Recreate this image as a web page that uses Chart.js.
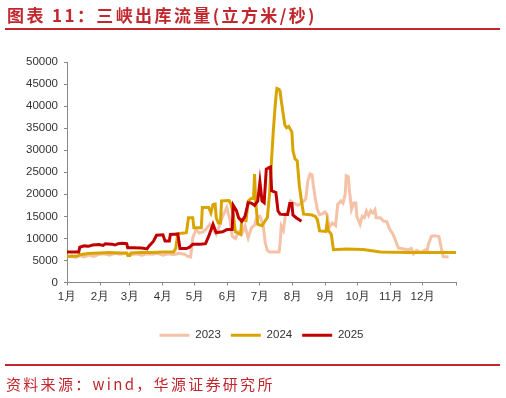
<!DOCTYPE html>
<html>
<head>
<meta charset="utf-8">
<script src="https://cdn.jsdelivr.net/npm/chart.js@4.4.1/dist/chart.umd.min.js"></script>
<style>
  html, body { margin: 0; padding: 0; background: #fff; }
  body { width: 506px; height: 398px; position: relative; overflow: hidden; }
  #title { position: absolute; left: 7px; top: 4px; font-family: "Noto Sans CJK SC", sans-serif; font-size: 17px; font-weight: 700; color: #C1272D; letter-spacing: 2.4px; white-space: nowrap; line-height: 22px; }
  #topline { position: absolute; left: 5px; top: 28px; width: 495px; height: 2px; background: #C1272D; }
  #botline { position: absolute; left: 5px; top: 364px; width: 495px; height: 2px; background: #C1272D; }
  #source { position: absolute; left: 6px; top: 373px; font-family: "Noto Sans CJK SC", sans-serif; font-size: 15px; color: #C1272D; letter-spacing: 2.3px; white-space: nowrap; line-height: 22px; }
  #wrap { position: absolute; left: 0; top: 0; width: 506px; height: 398px; }
</style>
</head>
<body>
<div id="wrap"><canvas id="c" width="506" height="398"></canvas></div>
<div id="title">图表 11：三峡出库流量(立方米/秒)</div>
<div id="topline"></div>
<div id="botline"></div>
<div id="source">资料来源：wind，华源证券研究所</div>
<script>
// Month tick labels and their start day-of-year
const monthLabels = ["1月","2月","3月","4月","5月","6月","7月","8月","9月","10月","11月","12月",""];
const monthStartDays = [0,31,59,90,120,151,181,212,243,273,304,334,365];

const seriesNames = ["2023","2024","2025"];

// 2023 (day of year, flow m3/s)
const days2023 = [0,5,8,12,16,20,25,30,35,40,45,50,55,60,65,70,75,80,85,90,95,100,105,110,114,116,118,121,124,128,131,134,137,140,143,146,150,153,155,158,161,164,167,170,173,176,178,181,184,186,188,190,199,200,201,203,205,208,210,213,217,221,224,226,228,230,231,233,235,237,240,242,244,246,249,252,254,257,259,261,262,264,265,267,269,271,272,275,277,279,281,283,285,287,289,290,294,297,300,303,306,309,311,316,320,323,325,328,332,336,338,339,342,345,349,351,353,358];
const flow2023 = [5900,6000,5700,6100,5800,6200,5900,6400,6500,6200,6600,6400,6600,6300,6500,6200,6500,6400,6600,6200,6500,6300,6600,6400,5900,5800,10100,12000,11200,11500,12300,13200,12000,10900,12800,15000,17000,14000,10500,10000,11500,11000,12800,10100,12400,13000,14700,15000,13200,9000,7300,6900,6900,9000,12800,11800,15400,16300,18500,18000,17500,18200,18900,23000,24600,24400,22300,19000,16500,15400,15600,16000,15400,12400,13500,12900,17700,18500,18000,20000,24200,24000,20800,16600,18000,18000,15000,13200,15000,14700,16200,15200,16300,15800,16500,14700,14700,13900,13800,12000,10900,9000,7800,7600,7400,7700,6500,7300,6800,7400,7200,8600,10500,10600,10400,8000,5900,5800];

// 2024
const days2024 = [0,10,12,20,30,40,50,56,57,59,60,70,80,90,100,102,104,110,112,114,118,119,126,127,133,135,137,139,140,142,144,145,152,154,156,158,163,164,168,170,173,175,176,177,179,183,186,188,190,192,193.5,195,196,197,199,200,201,203,204.5,206,208,211,212,214,216,218,220,222,226,230,233,235,237,243,244,245,248,250,262,278,294,320,365];
const flow2024 = [5900,6000,6300,6600,6700,6800,6700,6700,6100,6100,6700,6800,6800,6900,6900,7700,11100,11200,11300,14700,14700,12400,12400,17000,17000,15800,17700,17800,14700,13500,13500,18500,18600,17700,15400,11500,10900,14200,14000,18500,19100,19000,24600,18500,13200,12900,14000,14700,20000,28000,34100,39000,42000,44000,43800,43300,41300,38000,35600,35100,35400,34100,29900,28000,27600,22000,18500,15500,15400,15300,15000,14200,11700,11600,13500,11900,10900,7450,7600,7500,6900,6800,6800];

// 2025
const days2025 = [0,11,12,16,20,24,30,34,36,42,45,48,52,56,57,62,70,75,77,79,81,84,90,92,96,97,104,106,112,115,118,125,130,133,137,140,146,150,155,156,159,161,164,167,170,173,176,179,181,183,185,187,190,191,192,194,196,198,200,204,207,209,211,212,215,220];
const flow2025 = [6900,6900,8000,8300,8200,8500,8600,8400,8800,8700,8500,8800,8900,8800,7900,7900,7800,7600,8300,8800,9300,10700,10800,9400,9400,10900,11000,7700,7700,8000,8700,8700,8800,10500,13200,11300,11500,12000,12000,17500,16300,14700,13900,15000,18100,18000,17500,18500,22800,18500,18100,25700,26100,26200,20800,20600,20400,16200,15500,15400,15400,17900,17900,15300,14700,13900];

const seriesColors = ["#F5C2A8", "#DAA400", "#C00000"];

function pts(days, vals) { return days.map((d, i) => ({ x: d, y: vals[i] })); }

const tickFont = { family: "'Liberation Sans', Arial, sans-serif", size: 11.5 };

new Chart(document.getElementById('c'), {
  type: 'line',
  data: {
    datasets: [
      { label: seriesNames[0], data: pts(days2023, flow2023), borderColor: seriesColors[0], backgroundColor: seriesColors[0], borderWidth: 3, pointRadius: 0, tension: 0, order: 3 },
      { label: seriesNames[1], data: pts(days2024, flow2024), borderColor: seriesColors[1], backgroundColor: seriesColors[1], borderWidth: 3, pointRadius: 0, tension: 0, order: 2 },
      { label: seriesNames[2], data: pts(days2025, flow2025), borderColor: seriesColors[2], backgroundColor: seriesColors[2], borderWidth: 3, pointRadius: 0, tension: 0, order: 1 }
    ]
  },
  options: {
    responsive: false,
    animation: false,
    layout: { padding: { top: 62, left: 0, right: 50, bottom: 47 } },
    plugins: {
      tooltip: { enabled: false },
      legend: {
        position: 'bottom',
        fullSize: false,
        labels: {
          color: '#333',
          font: { family: "'Liberation Sans', Arial, sans-serif", size: 11.5 },
          boxWidth: 30,
          boxHeight: 3,
          padding: 10,
          generateLabels(chart) {
            return chart.data.datasets.map((ds, i) => ({
              text: ds.label, fillStyle: ds.borderColor, strokeStyle: ds.borderColor, lineWidth: 0, hidden: false, datasetIndex: i, fontColor: '#333'
            }));
          }
        }
      }
    },
    scales: {
      x: {
        type: 'linear',
        min: 0, max: 365,
        afterBuildTicks(scale) { scale.ticks = monthStartDays.map(v => ({ value: v })); },
        afterFit(scale) { scale.height = 37; },
        ticks: {
          autoSkip: false, maxRotation: 0, color: '#333', font: tickFont, padding: 4,
          callback(value, index) { return monthLabels[index]; }
        },
        grid: { drawOnChartArea: false, drawTicks: true, tickLength: 3, color: '#888' },
        border: { display: true, color: '#888', width: 1 }
      },
      y: {
        min: 0, max: 50000,
        afterFit(scale) { scale.width = 67; },
        ticks: { stepSize: 5000, color: '#333', font: tickFont, padding: 6, callback(v) { return String(v); } },
        grid: { drawOnChartArea: false, drawTicks: true, tickLength: 3, color: '#888' },
        border: { display: true, color: '#888', width: 1 }
      }
    }
  }
});
</script>
</body>
</html>
